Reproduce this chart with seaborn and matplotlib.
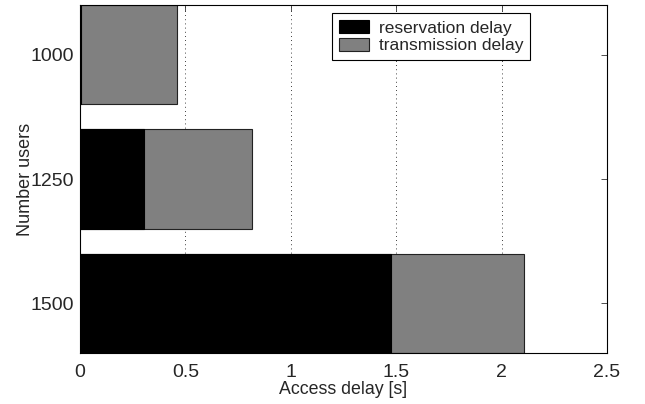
import matplotlib
matplotlib.use("Agg")
import matplotlib.pyplot as plt
import seaborn as sns
import pandas as pd

users = ["1000", "1250", "1500"]
reservation = [0.005, 0.305, 1.475]
transmission = [0.455, 0.51, 0.63]
total = [r + t for r, t in zip(reservation, transmission)]

sns.set_style("white")
plt.rcParams['font.family'] = ['Liberation Sans', 'DejaVu Sans']

df = pd.DataFrame({"users": users, "reservation": reservation, "total": total})

fig = plt.figure(figsize=(6.45, 4.04), dpi=100)
ax = fig.add_axes([80/645, 51/404, 527/645, 348/404])

sns.barplot(data=df, y="users", x="total", orient="h", color="#808080",
            saturation=1, width=0.8, edgecolor="#222222", linewidth=0.8,
            ax=ax, label="transmission delay", zorder=2)
sns.barplot(data=df, y="users", x="reservation", orient="h", color="#000000",
            saturation=1, width=0.8, edgecolor="#000000", linewidth=0.8,
            ax=ax, label="reservation delay", zorder=3)

ax.set_xlim(0, 2.5)
ax.set_ylim(2.4, -0.4)
ax.set_xticks([0, 0.5, 1, 1.5, 2, 2.5])
ax.set_xticklabels(["0", "0.5", "1", "1.5", "2", "2.5"])
ax.xaxis.grid(True, linestyle=(0, (1, 4)), color="black", linewidth=0.6, zorder=0)
ax.set_axisbelow(True)
ax.tick_params(direction="in", top=True, right=True, length=4, width=0.6,
               labelsize=14, color="#333333")
ax.tick_params(axis="x", pad=8)
ax.tick_params(axis="y", left=False, pad=4)
for s in ax.spines.values():
    s.set_color("black")
    s.set_linewidth(0.8)
ax.set_xlabel("Access delay [s]", fontsize=12.8, labelpad=0)
ax.set_ylabel("Number users", fontsize=13, labelpad=-2)

handles, labels = ax.get_legend_handles_labels()
order = [labels.index("reservation delay"), labels.index("transmission delay")]
leg = ax.legend([handles[i] for i in order], [labels[i] for i in order],
                loc="upper left", bbox_to_anchor=(252/527, 0.977), fontsize=12.5,
                frameon=True, fancybox=False, edgecolor="black", framealpha=1,
                handlelength=1.75, handleheight=0.8, borderpad=0.4,
                labelspacing=0.12, handletextpad=0.55, borderaxespad=0)
leg.get_frame().set_linewidth(0.8)

fig.savefig("out.png", dpi=100)
